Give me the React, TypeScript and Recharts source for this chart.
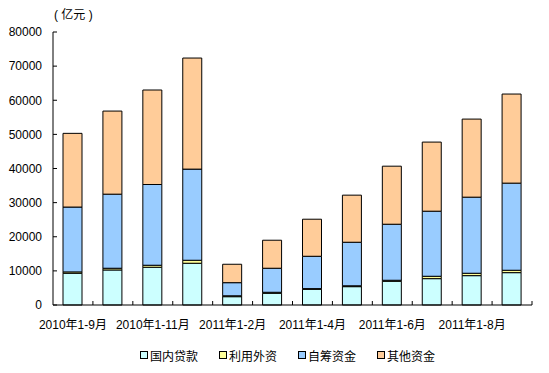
import { BarChart, Bar, XAxis, YAxis, Legend } from 'recharts';

const categories = [
  '2010年1-9月', '2010年1-10月', '2010年1-11月', '2010年1-12月',
  '2011年1-2月', '2011年1-3月', '2011年1-4月', '2011年1-5月',
  '2011年1-6月', '2011年1-7月', '2011年1-8月', '2011年1-9月',
];

// 亿元, stacked from the bottom
const domesticLoans = [9300, 10270, 11060, 12230, 2440, 3430, 4600, 5380, 6950, 7720, 8600, 9480];
const foreignCapital = [400, 500, 590, 880, 260, 300, 200, 250, 300, 700, 700, 700];
const selfRaised = [19000, 21710, 23660, 26710, 3840, 7040, 9480, 12760, 16420, 19070, 22300, 25530];
const otherFunds = [21600, 24350, 27690, 32550, 5400, 8210, 10860, 13800, 17010, 20250, 22880, 26110];

const yTicks = [0, 10000, 20000, 30000, 40000, 50000, 60000, 70000, 80000];

const series = [
  { key: 'domestic', name: '国内贷款', color: '#CCFFFF' },
  { key: 'foreign', name: '利用外资', color: '#FFFF99' },
  { key: 'self', name: '自筹资金', color: '#99CCFF' },
  { key: 'other', name: '其他资金', color: '#FFCC99' },
];

const chartData = categories.map((name, i) => ({
  name,
  domestic: domesticLoans[i],
  foreign: foreignCapital[i],
  self: selfRaised[i],
  other: otherFunds[i],
}));

const FONT = '"Liberation Sans", Arial, "Noto Sans CJK SC", sans-serif';

function XTick(props: any) {
  const { x, y, payload, index } = props;
  const half = payload && payload.offset ? payload.offset : 20;
  return (
    <g>
      <line x1={x + half} y1={y} x2={x + half} y2={y - 4} stroke="#000" strokeWidth={1} />
      {index % 2 === 0 && (
        <text x={x} y={y + 24} textAnchor="middle" fontSize={12} fill="#000" fontFamily={FONT}>
          {payload.value}
        </text>
      )}
    </g>
  );
}

function LegendContent() {
  return (
    <div
      style={{
        display: 'flex',
        justifyContent: 'center',
        paddingLeft: 43,
        height: 20,
        alignItems: 'center',
        fontSize: 12,
        fontFamily: FONT,
        color: '#000',
      }}
    >
      {series.map((s, i) => (
        <div key={s.key} style={{ display: 'flex', alignItems: 'center', marginLeft: i === 0 ? 0 : 21 }}>
          <span
            style={{
              display: 'inline-block',
              width: 6,
              height: 6,
              border: '1px solid #000',
              background: s.color,
              marginRight: 2,
            }}
          />
          <span>{s.name}</span>
        </div>
      ))}
    </div>
  );
}

export default function App() {
  return (
    <div style={{ position: 'relative', width: 549, height: 373, background: '#fff', fontFamily: FONT }}>
      <style>{'body{margin:0}'}</style>
      <div
        style={{
          position: 'absolute',
          left: 54,
          top: 8,
          fontSize: 12,
          lineHeight: '14px',
          color: '#000',
          whiteSpace: 'pre',
        }}
      >
        {'( 亿元 )'}
      </div>
      <BarChart
        width={549}
        height={373}
        data={chartData}
        margin={{ top: 32, right: 17, left: 0, bottom: 8 }}
        barSize={19}
      >
        <XAxis
          dataKey="name"
          interval={0}
          height={40}
          tickLine={false}
          tickSize={0}
          tickMargin={0}
          axisLine={{ stroke: '#000' }}
          tick={<XTick />}
        />
        <YAxis
          width={53}
          domain={[0, 80000]}
          ticks={yTicks}
          interval={0}
          tickSize={-4}
          tickMargin={15}
          axisLine={{ stroke: '#000' }}
          tickLine={{ stroke: '#000' }}
          tick={{ fill: '#000', fontSize: 12, fontFamily: FONT }}
        />
        <Legend verticalAlign="bottom" height={20} content={<LegendContent />} />
        {series.map((s) => (
          <Bar
            key={s.key}
            dataKey={s.key}
            name={s.name}
            stackId="a"
            fill={s.color}
            stroke="#000"
            strokeWidth={1}
            isAnimationActive={false}
          />
        ))}
      </BarChart>
    </div>
  );
}
